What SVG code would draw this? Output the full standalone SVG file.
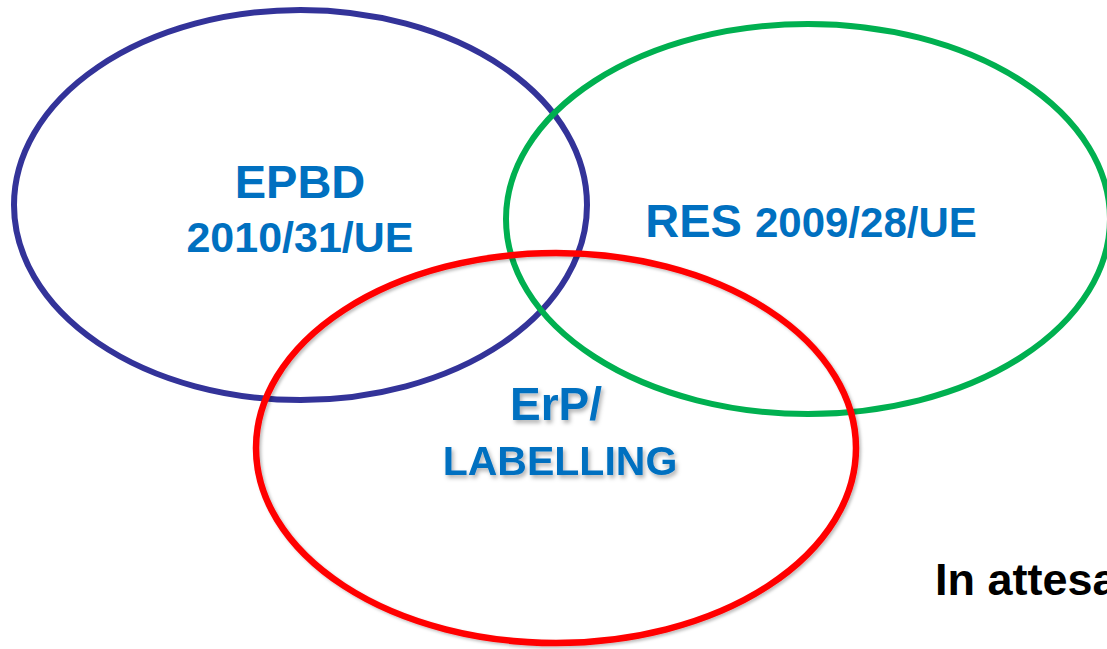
<svg xmlns="http://www.w3.org/2000/svg" width="1107" height="649" viewBox="0 0 1107 649">
  <defs>
    <filter id="soft" x="-10%" y="-10%" width="120%" height="120%">
      <feDropShadow dx="2" dy="2" stdDeviation="1.5" flood-color="#000" flood-opacity="0.25"/>
    </filter>
    <filter id="textShadow" x="-10%" y="-20%" width="120%" height="150%">
      <feDropShadow dx="2" dy="3" stdDeviation="2" flood-color="#000" flood-opacity="0.3"/>
    </filter>
  </defs>
  <style>
    .ring { fill: none; }
    .lbl { font-family: "Liberation Sans", Arial, sans-serif; font-weight: bold; fill: #0070C0; text-anchor: middle; }
    .note { font-family: "Liberation Sans", Arial, sans-serif; font-weight: bold; fill: #000; }
  </style>
  <rect width="1107" height="649" fill="#fff"/>

  <g id="epbd">
    <ellipse class="ring" cx="300.5" cy="205" rx="286.5" ry="195" stroke="#333399" stroke-width="6"/>
    <text class="lbl" x="300" y="198" font-size="47">EPBD</text>
    <text class="lbl" x="300" y="252" font-size="43">2010/31/UE</text>
  </g>

  <g id="res">
    <ellipse class="ring" cx="808" cy="219" rx="302" ry="195" stroke="#00B050" stroke-width="6"/>
    <text class="lbl" x="811" y="237"><tspan font-size="47">RES </tspan><tspan font-size="42">2009/28/UE</tspan></text>
  </g>

  <g id="erp">
    <ellipse class="ring" cx="556" cy="448" rx="300" ry="195" stroke="#FF0000" stroke-width="6.5" filter="url(#soft)"/>
    <g filter="url(#textShadow)">
      <text class="lbl" x="556" y="420" font-size="46">ErP/</text>
      <text class="lbl" x="560" y="475" font-size="41">LABELLING</text>
    </g>
  </g>

  <g id="note">
    <text class="note" x="935" y="595" font-size="45">In attesa</text>
  </g>
</svg>
